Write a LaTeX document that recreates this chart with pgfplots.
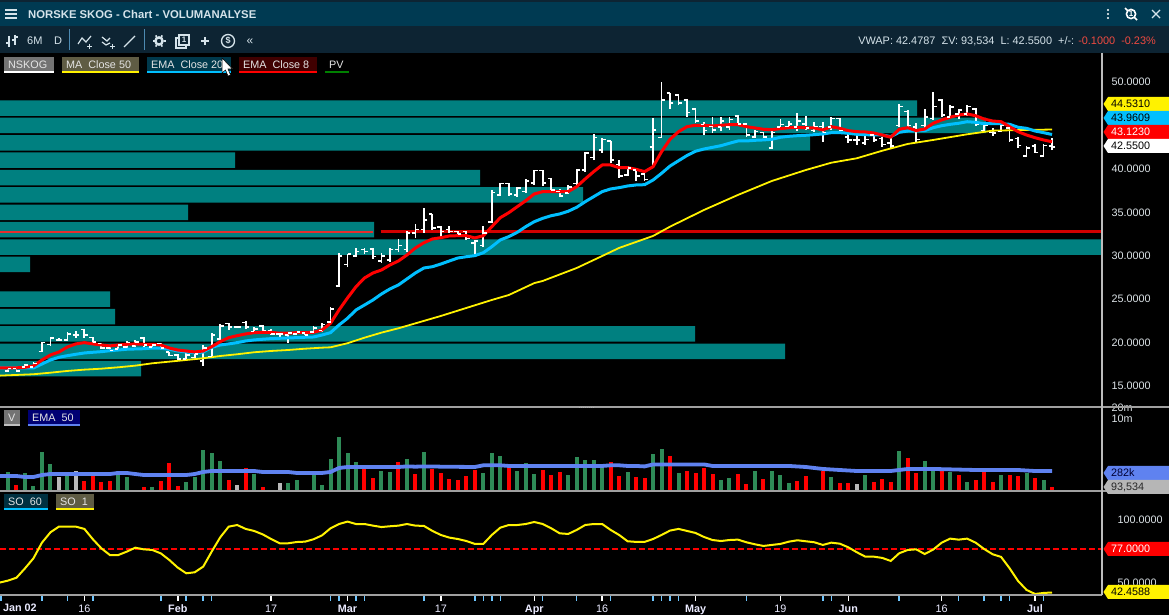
\documentclass[border=0pt]{standalone}
\usepackage{pgfplots}
\pgfplotsset{compat=1.18}
\usepackage{pgfplotstable}
\usepackage{fontspec}
\setmainfont{Liberation Sans}
\definecolor{pv}{HTML}{008080}
\definecolor{titlebar}{HTML}{003A52}
\definecolor{toolbar}{HTML}{0D2433}
\definecolor{sep}{HTML}{A0A0A0}
\definecolor{lab}{HTML}{DDE4E8}
\definecolor{emab}{HTML}{00BFFF}
\definecolor{vemab}{HTML}{5F82F0}
\definecolor{vgreen}{HTML}{2E8B57}
\definecolor{ticklb}{HTML}{6EC6FF}
\definecolor{hdr}{HTML}{D5E3EA}

\pgfdeclareplotmark{otick}{\pgfpathmoveto{\pgfqpoint{-3.4pt}{0pt}}\pgfpathlineto{\pgfqpoint{0pt}{0pt}}\pgfusepathqstroke}
\pgfdeclareplotmark{ctick}{\pgfpathmoveto{\pgfqpoint{3.4pt}{0pt}}\pgfpathlineto{\pgfqpoint{0pt}{0pt}}\pgfusepathqstroke}

% volume profile: price level, size
\pgfplotstableread{
p w
47 917
45 986
43 810
41 235
39 480
37 583
35 188
33 374
31 1102
29 30
25 110
23 115
21 695
19 785
17 141
}\pvtab

\pgfplotstableread{
i h l o c
1 17.1 16.6 16.7 17.0
2 17.1 16.6 17.0 16.7
3 17.54 17.08 17.2 17.4
4 17.77 17.08 17.2 17.6
5 20.08 18.92 19.0 20.0
6 20.65 19.62 19.8 20.5
7 20.54 20.19 20.3 20.3
8 21.23 20.19 20.3 21.0
9 21.34 20.54 20.9 20.9
10 21.57 20.54 21.5 20.9
11 20.65 19.96 20.6 20.1
12 19.96 19.27 19.9 19.4
13 19.5 19.04 19.4 19.1
14 19.85 19.15 19.3 19.7
15 20.19 19.39 19.5 20.0
16 20.31 19.5 19.6 20.1
17 20.65 19.5 20.5 19.7
18 19.85 19.39 19.5 19.7
19 19.96 19.27 19.9 19.4
20 18.92 18.46 18.9 18.5
21 18.69 18.0 18.6 18.1
22 18.81 18.0 18.1 18.6
23 18.81 18.23 18.3 18.7
24 19.73 17.31 17.9 19.4
25 21.11 18.35 18.4 20.9
26 22.15 20.3 20.4 21.9
27 22.26 21.46 22.2 21.8
28 21.92 21.69 21.8 21.8
29 22.49 21.57 22.3 21.8
30 21.8 21.11 21.3 21.6
31 22.03 21.23 21.9 21.4
32 21.57 20.88 21.4 21.0
33 21.23 20.65 21.0 21.0
34 21.23 19.96 20.9 21.1
35 21.34 20.88 21.0 21.2
36 21.11 20.88 21.1 20.9
37 21.92 21.11 21.2 21.7
38 22.26 21.23 21.4 22.1
39 24.1 22.26 22.4 23.9
40 30.32 26.41 26.5 30.0
41 30.2 28.7 29.0 30.2
42 30.9 29.86 30.0 30.5
43 30.9 30.2 30.7 30.5
44 30.9 29.63 30.8 29.9
45 30.32 29.17 29.4 30.0
46 30.9 29.28 29.5 30.7
47 31.93 30.43 30.7 31.2
48 32.85 30.43 30.7 32.6
49 33.66 32.05 32.6 33.0
50 35.5 32.62 33.0 34.1
51 34.8 32.97 34.8 33.2
52 33.43 32.16 33.3 32.8
53 33.43 32.62 33.0 32.8
54 32.85 32.39 32.8 32.5
55 32.85 31.82 32.8 32.0
56 31.82 30.2 31.5 31.7
57 33.43 31.0 31.2 32.6
58 37.57 33.77 33.9 37.3
59 38.38 36.88 37.0 38.3
60 38.38 36.88 38.3 37.1
61 37.92 36.77 37.0 37.8
62 38.84 37.23 37.4 38.6
63 39.87 38.15 38.4 39.8
64 39.87 38.03 39.8 38.4
65 38.95 37.46 38.9 37.6
66 37.69 36.77 37.4 36.9
67 38.15 37.11 37.2 37.9
68 39.99 38.15 38.3 39.9
69 41.95 39.64 39.9 41.8
70 44.02 41.02 41.3 43.6
71 43.56 41.83 42.2 43.4
72 43.21 40.68 43.2 41.0
73 41.02 38.95 40.5 39.2
74 40.33 39.18 39.3 40.1
75 40.1 38.61 39.9 39.2
76 39.53 38.61 39.4 38.8
77 45.86 40.45 42.5 44.5
78 50.0 43.56 43.6 47.9
79 48.74 46.89 48.7 47.6
80 48.62 47.35 48.5 47.6
81 48.04 45.97 47.9 46.5
82 47.0 45.28 46.9 45.5
83 45.4 43.9 45.1 44.4
84 45.97 44.13 44.9 44.5
85 45.97 44.36 44.8 45.5
86 45.97 44.48 44.8 45.7
87 46.2 44.94 46.1 45.2
88 45.28 43.67 45.2 43.9
89 44.48 43.56 43.7 44.3
90 44.25 43.56 44.2 43.7
91 44.36 42.29 42.4 44.2
92 45.74 44.48 44.8 45.1
93 45.51 44.71 44.9 45.2
94 46.43 44.36 44.8 45.5
95 46.09 44.48 45.2 44.7
96 45.4 44.25 44.4 44.9
97 45.4 43.1 44.9 44.2
98 45.97 44.48 44.8 45.8
99 45.86 44.25 45.8 44.4
100 44.13 42.98 43.7 43.3
101 43.9 42.75 43.3 43.3
102 43.9 42.75 43.0 43.4
103 44.25 43.1 43.9 43.3
104 43.67 42.52 43.5 42.8
105 43.9 42.41 43.0 42.6
106 47.47 44.82 45.0 47.2
107 46.78 44.82 46.6 45.0
108 45.28 43.1 44.8 43.4
109 46.89 44.71 45.0 46.0
110 48.85 45.63 45.8 47.2
111 48.04 45.97 47.9 46.2
112 47.35 45.86 46.0 47.1
113 46.89 45.74 46.3 46.8
114 47.35 46.09 46.3 47.2
115 47.0 44.94 46.9 45.1
116 45.28 44.25 44.4 45.0
117 44.71 43.79 44.2 44.1
118 45.28 44.25 44.3 45.0
119 44.82 43.1 44.7 43.3
120 43.67 42.41 43.5 42.7
121 42.64 41.37 41.5 42.4
122 42.87 41.83 42.6 41.9
123 42.87 41.37 41.5 42.7
124 43.56 42.17 42.65 42.55
}\ohlc

\pgfplotstableread{
i v
0 17.1
1 17.1
2 17.1
3 17.16
4 17.31
5 18.0
6 18.58
7 18.92
8 19.5
9 19.85
10 20.0
11 19.85
12 19.73
13 19.62
14 19.73
15 19.81
16 19.85
17 19.81
18 19.81
19 19.73
20 19.38
21 19.15
22 19.04
23 18.92
24 19.04
25 19.53
26 20.11
27 20.57
28 20.8
29 21.0
30 21.15
31 21.19
32 21.19
33 21.08
34 21.08
35 21.15
36 21.15
37 21.19
38 21.46
39 22.23
40 23.76
41 25.14
42 26.44
43 27.44
44 28.02
45 28.36
46 28.94
47 29.4
48 30.09
49 30.9
50 31.5
51 31.93
52 32.08
53 32.28
54 32.31
55 32.31
56 32.05
57 32.31
58 33.35
59 34.38
60 34.96
61 35.65
62 36.34
63 37.11
64 37.38
65 37.38
66 37.38
67 37.38
68 37.95
69 38.84
70 39.68
71 40.45
72 40.45
73 40.14
74 40.14
75 39.95
76 39.68
77 40.25
78 41.98
79 43.41
80 44.28
81 44.86
82 45.02
83 45.02
84 44.94
85 45.02
86 45.09
87 45.09
88 44.86
89 44.71
90 44.56
91 44.51
92 44.63
93 44.74
94 44.79
95 44.74
96 44.71
97 44.48
98 44.86
99 44.67
100 44.4
101 44.28
102 44.25
103 44.13
104 43.9
105 43.64
106 44.56
107 44.74
108 44.4
109 44.59
110 45.25
111 45.63
112 45.94
113 46.2
114 46.32
115 46.12
116 45.74
117 45.51
118 45.43
119 44.86
120 44.28
121 43.9
122 43.59
123 43.33
124 43.12
}\emaeight

\pgfplotstableread{
i v
0 17.08
1 17.08
2 17.08
3 17.08
4 17.08
5 17.54
6 18.0
7 18.31
8 18.5
9 18.66
10 18.81
11 18.89
12 18.96
13 19.07
14 19.15
15 19.24
16 19.27
17 19.3
18 19.38
19 19.35
20 19.24
21 19.04
22 18.92
23 18.84
24 18.92
25 19.46
26 19.73
27 19.85
28 20.0
29 20.19
30 20.31
31 20.39
32 20.46
33 20.5
34 20.54
35 20.57
36 20.62
37 20.65
38 20.88
39 21.15
40 22.03
41 22.8
42 23.76
43 24.33
44 24.91
45 25.6
46 26.18
47 26.64
48 27.33
49 28.02
50 28.59
51 28.74
52 29.05
53 29.4
54 29.74
55 29.89
56 30.01
57 30.35
58 31.04
59 31.82
60 32.2
61 32.7
62 33.35
63 33.92
64 34.31
65 34.61
66 34.81
67 35.12
68 35.58
69 36.22
70 36.8
71 37.38
72 37.69
73 37.84
74 38.03
75 38.15
76 38.18
77 38.72
78 39.49
79 40.33
80 40.94
81 41.54
82 42.03
83 42.29
84 42.48
85 42.67
86 42.95
87 43.21
88 43.21
89 43.29
90 43.33
91 43.41
92 43.64
93 43.75
94 43.82
95 43.87
96 43.94
97 44.02
98 44.17
99 44.17
100 44.1
101 43.98
102 43.94
103 43.9
104 43.9
105 43.71
106 44.21
107 44.36
108 44.4
109 44.4
110 44.74
111 44.97
112 45.13
113 45.25
114 45.43
115 45.36
116 45.2
117 45.2
118 45.2
119 45.13
120 44.79
121 44.67
122 44.36
123 44.17
124 43.96
}\ematwenty

\pgfplotstableread{
i v
0 16.2
4 16.36
6 16.54
8 16.74
10 16.89
12 17.0
14 17.16
16 17.35
18 17.62
20 17.81
22 18.0
24 18.2
26 18.46
28 18.66
30 18.89
32 19.04
34 19.15
36 19.3
38 19.42
39 19.46
41 19.93
43 20.57
45 21.15
47 21.65
52 23.07
55 23.99
58 24.91
60 25.48
63 26.85
64 27.1
68 28.59
71 29.97
73 30.9
77 32.28
79 33.35
83 35.27
87 37.0
91 38.61
95 39.87
98 40.71
101 41.22
104 42.09
107 42.87
110 43.33
114 43.98
117 44.4
121 44.48
124 44.53
}\mafifty

\pgfplotstableread{
i v
1 264
3 247
4 102
5 1026
6 455
8 215
14 282
15 188
16 78
18 94
22 134
23 188
24 1177
25 958
26 558
30 230
34 125
35 153
37 215
38 109
39 640
40 2810
41 958
42 521
45 282
46 264
48 640
50 1026
57 247
58 958
59 780
61 282
62 486
63 230
67 215
68 728
69 597
70 597
71 370
74 264
77 895
78 1260
80 247
85 153
86 176
89 282
91 282
92 215
93 125
96 78
98 188
102 215
106 1099
109 558
110 282
112 264
114 134
118 215
121 247
123 153
}\volgreen

\pgfplotstableread{
i v
2 109
10 143
11 201
12 134
13 143
17 94
19 143
20 486
21 102
27 153
29 346
31 94
32 78
36 78
43 324
44 176
47 521
49 230
51 324
52 247
53 164
54 153
55 201
56 302
60 370
64 302
65 215
66 264
72 521
73 201
75 188
76 176
79 780
81 282
82 247
83 346
84 230
87 230
88 117
90 164
94 143
95 201
97 282
99 125
100 125
103 134
104 164
105 134
107 685
108 247
111 282
113 215
115 153
116 264
117 134
119 215
120 201
122 176
124 93.534
}\volred

\pgfplotstableread{
i v
7 188
9 282
28 109
33 125
101 117
}\volgrey

\pgfplotstableread{
i v
0 201
2 201
3 188
4 188
5 215
6 230
13 230
14 247
15 247
16 230
17 215
22 215
23 230
24 264
25 282
30 282
31 264
34 264
35 247
38 247
39 264
40 346
41 370
47 370
48 385
49 378
50 385
51 385
52 378
56 370
57 415
59 415
60 397
71 397
72 415
73 415
74 397
75 397
76 385
77 440
83 440
84 397
90 397
93 397
95 370
97 324
99 302
101 282
103 282
105 282
106 302
107 324
110 324
115 302
120 302
122 282
124 282
}\volema

\pgfplotstableread{
i v
0 50.3
1 51.9
2 54.2
3 61.6
4 69.6
5 82.0
6 90.2
7 94.7
8 94.7
9 94.7
10 92.9
11 84.7
12 77.5
13 72.2
14 72.2
15 74.9
16 78.0
17 76.7
18 76.2
19 73.5
20 68.3
21 62.2
22 57.7
23 58.5
24 63.0
25 74.9
26 86.2
27 94.7
28 96.0
29 92.9
30 91.3
31 88.6
32 84.9
33 81.5
34 81.5
35 82.5
36 82.8
37 84.7
38 87.8
39 93.4
40 96.8
41 98.7
42 96.8
43 96.8
44 95.5
45 94.4
46 95.0
47 95.5
48 96.8
49 95.5
50 95.3
51 91.3
52 88.1
53 86.0
54 84.9
55 83.3
56 81.0
57 81.0
58 88.1
59 93.9
60 96.0
61 96.0
62 96.8
63 98.4
64 96.8
65 93.4
66 89.4
67 88.9
68 92.1
69 96.0
70 96.8
71 96.8
72 92.1
73 88.1
74 83.1
75 82.6
76 82.6
77 84.9
78 88.1
79 91.6
80 92.9
81 91.3
82 89.7
83 86.5
84 84.1
85 83.3
86 84.1
87 84.4
88 82.3
89 80.7
90 79.4
91 80.2
92 81.0
93 82.8
94 83.9
95 83.1
96 82.3
97 80.2
98 82.0
99 81.2
100 78.3
101 74.4
102 70.9
103 70.9
104 69.9
105 67.5
106 73.6
107 76.2
108 76.7
109 73.0
110 76.5
111 82.0
112 85.2
113 84.4
114 85.2
115 82.0
116 77.0
117 72.8
118 70.7
119 61.7
120 51.6
121 44.5
122 41.3
123 42.1
124 42.46
}\sotab

\pgfplotsset{
 panel/.style={
  scale only axis, width=1102pt, anchor=south west,
  xmin=0.0575, xmax=129.89,
  axis line style={draw=none},
  tick style={draw=none},
  xtick=\empty,
  ytick pos=right,
  tick label style={font=\fontsize{10.8}{12}\selectfont, text=lab},
  yticklabel style={xshift=6pt},
  /pgf/number format/.cd, fixed, fixed zerofill, precision=4, assume math mode=true, 1000 sep={},
 }
}

\newcommand{\tag}[4]{% y, fill, text, label
 \fill[#2] (1103.5,#1) -- (1108,#1-7) -- (1169,#1-7) -- (1169,#1+7) -- (1108,#1+7) -- cycle;
 \node[anchor=west,inner sep=0pt,text=#3,font=\fontsize{10.8}{12}\selectfont] at (1111,#1) {#4};}
\newcommand{\chip}[7]{% x0,x1,y0,y1,fill,under,label
 \fill[#5] (#1,#3) rectangle (#2,#4);
 \fill[#6] (#1,#4-1.5) rectangle (#2,#4);
 \node[anchor=west,inner sep=0pt,text=white!90!black,font=\fontsize{10.8}{12}\selectfont] at (#1+4,{(#3+#4)/2-0.5}) {#7};}

\begin{document}
\begin{tikzpicture}
\path[use as bounding box] (0,0) rectangle (1169pt,615pt);
\fill[black] (0,0) rectangle (1169pt,615pt);

% volume profile
\begin{axis}[at={(0pt,208pt)}, panel, height=354pt, ymin=12.59, ymax=53.34, xmin=0, xmax=1102,
  xbar, bar width=15.6pt, ytick=\empty, clip=true]
\addplot[fill=pv, draw=none] table[x=w,y=p] {\pvtab};
\end{axis}

% price panel
\begin{axis}[at={(0pt,208pt)}, panel, height=354pt, ymin=12.59, ymax=53.34,
  ytick={15,20,25,30,35,40,50}]
\addplot[color=red!85!white, opacity=.9, line width=2pt] coordinates {(0.0575,32.77) (44,32.77)};
\addplot[color=red!82!black, line width=2.6pt] coordinates {(44.9,32.77) (129.89,32.77)};
\addplot[draw=none, mark=none, error bars/.cd, y dir=plus, y explicit, error mark=none,
  error bar style={white, line width=1.8pt}] table[x=i,y=l,y error expr=\thisrow{h}-\thisrow{l}] {\ohlc};
\addplot[only marks, white, mark=otick, mark options={line width=1.6pt}] table[x=i,y=o] {\ohlc};
\addplot[only marks, white, mark=ctick, mark options={line width=1.6pt}] table[x=i,y=c] {\ohlc};
\addplot[yellow, line width=1.8pt] table[x=i,y=v] {\mafifty};
\addplot[emab, line width=3pt, line join=round] table[x=i,y=v] {\ematwenty};
\addplot[red, line width=3pt, line join=round] table[x=i,y=v] {\emaeight};
\end{axis}

% volume panel
\begin{axis}[at={(0pt,124pt)}, panel, height=84pt, ymode=log, log basis y=10, ymin=72.8, ymax=21550,
  ytick={10000,20000}, yticklabels={10m,20m}, minor ytick={}, yminorticks=false]
\addplot[ycomb, vgreen, line width=4pt] table[x=i,y=v] {\volgreen};
\addplot[ycomb, red, line width=4pt] table[x=i,y=v] {\volred};
\addplot[ycomb, lightgray!90!gray, line width=4pt] table[x=i,y=v] {\volgrey};
\addplot[vemab, line width=3.8pt, line join=round] table[x=i,y=v] {\volema};
\end{axis}

% stochastic oscillator panel
\begin{axis}[at={(0pt,20pt)}, panel, height=103pt, ymin=40.48, ymax=122.2,
  ytick={50,100},
  xtick={10,21,32,41,52,63,71,82,92,100,111,122},
  xticklabels={16,\textbf{Feb},17,\textbf{Mar},17,\textbf{Apr},16,\textbf{May},19,\textbf{Jun},16,\textbf{Jul}},
  extra x ticks={2.4}, extra x tick labels={\textbf{Jan 02}},
  extra x tick style={major tick length=0pt, xticklabel style={yshift=-5pt}},
  minor xtick={0.2,5,8,11,19,21,22,24,25,32,39,40,41,42,43,50,56,57,58,59,64,68,71,72,77,78,79,80,88,92,97,98,106,113,116,118,119,122,123},
  tick align=outside, xtick pos=bottom,
  major tick length=6pt, minor tick length=6pt,
  x tick style={draw=white, line width=1.5pt},
  minor x tick style={draw=ticklb, line width=1.5pt},
  xticklabel style={yshift=-0.5pt, text=white!92!blue},
  ]
\addplot[red, line width=2pt, dash pattern=on 6pt off 3pt] coordinates {(0.0575,77) (129.89,77)};
\addplot[yellow, line width=2pt] table[x=i,y=v] {\sotab};
\end{axis}

\begin{scope}[x=1pt,y=-1pt,yshift=615pt]
% header bars
\fill[toolbar] (0,0) rectangle (1169,3);
\fill[titlebar] (0,2) rectangle (1169,26);
\fill[toolbar] (0,26) rectangle (1169,53);
\foreach \yy in {10,14,18} \draw[hdr,line width=1.4pt] (5,\yy) -- (17,\yy);
\node[anchor=west,inner sep=0pt,text=hdr,font=\bfseries\fontsize{11.3}{13}\selectfont] at (28,14) {NORSKE SKOG - Chart - VOLUMANALYSE};
% title bar right icons
\foreach \yy in {10,14,18} \fill[white] (1108,\yy) circle (1.2);
\draw[white,line width=1.6pt] (1131,14) circle (4.6);
\node[text=white,inner sep=0pt,font=\bfseries\fontsize{8}{9}\selectfont] at (1131,14) {1};
\draw[white,line width=1.6pt] (1125,8) -- (1128,11) (1134,17) -- (1137,20);
\draw[hdr,line width=1.3pt] (1152,10) -- (1160,18) (1160,10) -- (1152,18);
% toolbar
\draw[ticklb!70!black,line width=1pt] (69,29) -- (69,50) (144,29) -- (144,50);
\draw[hdr,line width=1.2pt] (9,36) -- (9,47) (6,43) -- (9,43) (15,35) -- (15,45) (15,37) -- (18,37) (12,40) -- (15,40);
\node[anchor=west,inner sep=0pt,text=hdr,font=\fontsize{11}{13}\selectfont] at (27,41) {6M};
\node[anchor=west,inner sep=0pt,text=hdr,font=\fontsize{11}{13}\selectfont] at (54,41) {D};
\draw[hdr,line width=1.2pt] (78,44) -- (82,38) -- (86,42) -- (91,36);
\draw[hdr,line width=1pt] (87,47) -- (92,47) (89.5,44.5) -- (89.5,49.5);
\draw[hdr,line width=1.2pt] (102,37) -- (107,41) -- (110,38) (102,42) -- (106,45) -- (110,43);
\draw[hdr,line width=1pt] (110,47) -- (115,47) (112.5,44.5) -- (112.5,49.5);
\draw[hdr,line width=1.2pt] (124,47) -- (135,36);
\draw[hdr,line width=2.4pt] (159,41) circle (3.6);
\foreach \an in {0,60,...,300} \draw[hdr,line width=1.6pt] (159,41) ++(\an:4.5) -- ++(\an:2);
\draw[hdr,line width=1.2pt] (179,38) -- (176,38) -- (176,48) -- (186,48) -- (186,46);
\draw[hdr,line width=1.2pt] (179,35) rectangle (189,45);
\node[text=hdr,inner sep=0pt,font=\bfseries\fontsize{8}{9}\selectfont] at (184,40) {1};
\draw[hdr,line width=1.8pt] (201,41) -- (209,41) (205,37) -- (205,45);
\draw[hdr,line width=1.3pt] (228,41) circle (6.5);
\node[text=hdr,inner sep=0pt,font=\bfseries\fontsize{9}{10}\selectfont] at (228,41) {\$};
\node[text=hdr,inner sep=0pt,font=\fontsize{12}{13}\selectfont] at (250,42) {«};
\node[anchor=east,inner sep=0pt,font=\fontsize{10.9}{13}\selectfont,text=hdr] at (1156,41) {VWAP: 42.4787\ \ ΣV: 93,534\ \ L: 42.5500\ \ +/-: \textcolor[HTML]{F04A40}{-0.1000\ \ -0.23\%}};

% separators
\draw[sep,line width=1.4pt] (0,407) -- (1169,407);
\draw[sep,line width=1.4pt] (0,491) -- (1169,491);
\draw[sep,line width=1.2pt] (0,595) -- (1102,595);
\draw[sep!70!white,line width=1.2pt] (1102,53) -- (1102,595);
\draw[white!70!black,line width=0.8pt,dash pattern=on 1pt off 1pt] (579,407) -- (594,407);

% legend chips
\chip{4}{54}{57}{73}{black!55!white}{white}{NSKOG}
\chip{62}{139}{57}{73}{yellow!28!black}{yellow}{MA\ \ Close 50}
\chip{147}{231}{57}{73}{emab!30!black}{emab}{EMA\ \ Close 20}
\chip{239}{317}{57}{73}{red!25!black}{red}{EMA\ \ Close 8}
\chip{325}{349}{57}{73}{black}{green!50!black}{PV}
\chip{4}{20}{410}{426}{black!55!white}{lightgray}{V}
\chip{28}{80}{410}{426}{blue!45!black}{vemab}{EMA\ \ 50}
\chip{4}{48}{494}{510}{emab!25!black}{emab}{SO\ \ 60}
\chip{56}{94}{494}{510}{yellow!28!black}{yellow}{SO\ \ 1}
\fill[white,draw=black,line width=0.5pt] (222,58) -- (222,73) -- (225.5,70) -- (228,76) -- (230.5,75) -- (228,69) -- (232.5,69) -- cycle;

% value tags
\tag{104}{yellow}{black}{44.5310}
\tag{118}{emab}{black}{43.9609}
\tag{132}{red}{white}{43.1230}
\tag{146}{white}{black}{42.5500}
\tag{473}{vemab}{black!80!blue}{282k}
\tag{487}{lightgray!85!gray}{black!85}{93,534}
\tag{549}{red}{white}{77.0000}
\tag{592}{yellow}{black}{42.4588}
\end{scope}
\end{tikzpicture}
\end{document}
